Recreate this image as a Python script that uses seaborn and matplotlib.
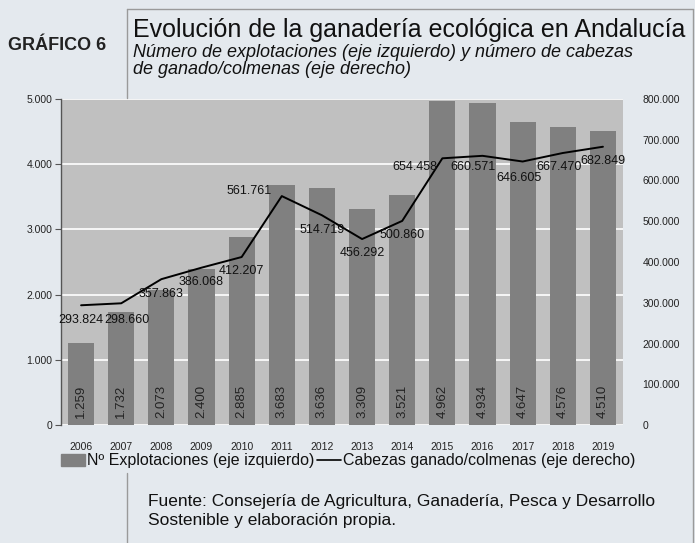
import numpy as np
import pandas as pd
import matplotlib
matplotlib.use('Agg')
import matplotlib.pyplot as plt
import seaborn as sns
from matplotlib.patches import Patch
from matplotlib.lines import Line2D
from matplotlib.ticker import FuncFormatter

# datos
years = ['2006', '2007', '2008', '2009', '2010', '2011', '2012',
         '2013', '2014', '2015', '2016', '2017', '2018', '2019']
explotaciones = [1259, 1732, 2073, 2400, 2885, 3683, 3636,
                 3309, 3521, 4962, 4934, 4647, 4576, 4510]
cabezas = [293824, 298660, 357863, 386068, 412207, 561761, 514719,
           456292, 500860, 654458, 660571, 646605, 667470, 682849]

df = pd.DataFrame({'año': years, 'explotaciones': explotaciones, 'cabezas': cabezas})
df['pos'] = np.arange(len(df))

sns.set_theme(style='white')
plt.rcParams['font.family'] = ['Liberation Sans', 'DejaVu Sans']

BG = '#e4e9ee'
fig = plt.figure(figsize=(6.95, 5.43), dpi=100, facecolor=BG)
ax = fig.add_axes([61 / 695, 1 - 425 / 543, 562 / 695, 326 / 543])
ax.set_facecolor('#c0c0c0')

def miles(v, _):
    return f'{int(round(v)):,}'.replace(',', '.')

# barras
sns.barplot(data=df, x='año', y='explotaciones', color='#808080', saturation=1,
            width=0.65, linewidth=0, ax=ax, zorder=2)
ax.set_ylim(0, 5000)
ax.set_xlim(-0.5, len(years) - 0.5)
ax.set_yticks(np.arange(0, 5001, 1000))
ax.yaxis.set_major_formatter(FuncFormatter(miles))
ax.grid(axis='y', color='white', lw=1.2, zorder=0)
ax.set_axisbelow(True)
ax.set_xlabel('')
ax.set_ylabel('')
for s in ['top', 'right', 'bottom']:
    ax.spines[s].set_visible(False)
ax.spines['left'].set_color('#555555')
ax.spines['left'].set_linewidth(1)
ax.tick_params(axis='y', left=True, length=4, width=0.8, color='#555555',
               labelsize=7.5, pad=2, labelcolor='#222222')
ax.tick_params(axis='x', bottom=False, labelsize=7.5, pad=6, labelcolor='#222222')

# etiquetas de barras
for i, v in enumerate(explotaciones):
    ax.text(i, 110, miles(v, None), rotation=90, ha='center', va='bottom',
            fontsize=9.5, color='#222222', zorder=4)

# línea en eje derecho
ax2 = ax.twinx()
sns.lineplot(data=df, x='pos', y='cabezas', color='black', lw=1.4, ax=ax2,
             zorder=5)
ax2.set_ylim(0, 800000)
ax2.set_xlim(-0.5, len(years) - 0.5)
ax2.set_yticks(np.arange(0, 800001, 100000))
ax2.yaxis.set_major_formatter(FuncFormatter(miles))
ax2.tick_params(axis='y', right=False, labelsize=7.5, pad=8, labelcolor='#222222')
ax2.set_xlabel('')
ax2.set_ylabel('')
for s in ax2.spines.values():
    s.set_visible(False)

offsets = [(0, -15), (6, -17), (0, -15), (0, -14), (0, -14), (-33, 5), (0, -15),
           (0, -14), (0, -14), (-27, -9), (-9, -11), (-4, -16), (-4, -14), (0, -14)]
for i, v in enumerate(cabezas):
    dx, dy = offsets[i]
    ax2.annotate(miles(v, None), (i, v), xytext=(dx, dy), textcoords='offset pixels',
                 ha='center', va='center', fontsize=9, color='#111111', zorder=6)

# textos
fig.text(8 / 695, 1 - 45 / 543, 'GRÁFICO 6', fontsize=13, fontweight='bold',
         color='#222222', va='center')
fig.text(133 / 695, 1 - 30 / 543, 'Evolución de la ganadería ecológica en Andalucía',
         fontsize=18, color='#111111', va='center')
fig.text(133 / 695, 1 - 61 / 543,
         'Número de explotaciones (eje izquierdo) y número de cabezas\nde ganado/colmenas (eje derecho)',
         style='italic', fontsize=13, color='#111111', va='center', linespacing=0.95)
fig.text(148 / 695, 1 - 511 / 543,
         'Fuente: Consejería de Agricultura, Ganadería, Pesca y Desarrollo\nSostenible y elaboración propia.',
         fontsize=12.5, color='#111111', va='center', linespacing=1.35)

# leyenda
handles = [Patch(color='#808080', label='Nº Explotaciones (eje izquierdo)'),
           Line2D([], [], color='black', lw=1.2, label='Cabezas ganado/colmenas (eje derecho)')]
fig.legend(handles=handles, loc='center', bbox_to_anchor=(348 / 695, 1 - 461 / 543),
           ncol=2, frameon=False, fontsize=11.5, handlelength=1.5, handletextpad=0.1,
           columnspacing=0.2, labelcolor='#111111')

# marco
col = '#9a9a9a'
fig.add_artist(Line2D([127 / 695, 127 / 695], [1 - 98 / 543, 1 - 9 / 543],
                      transform=fig.transFigure, color=col, lw=1))
fig.add_artist(Line2D([127 / 695, 693 / 695], [1 - 9 / 543, 1 - 9 / 543],
                      transform=fig.transFigure, color=col, lw=1))
fig.add_artist(Line2D([693 / 695, 693 / 695], [1 - 9 / 543, 0],
                      transform=fig.transFigure, color=col, lw=1))
fig.add_artist(Line2D([127 / 695, 127 / 695], [1 - 473 / 543, 0],
                      transform=fig.transFigure, color=col, lw=1))

fig.savefig('out.png', dpi=100, facecolor=BG)
